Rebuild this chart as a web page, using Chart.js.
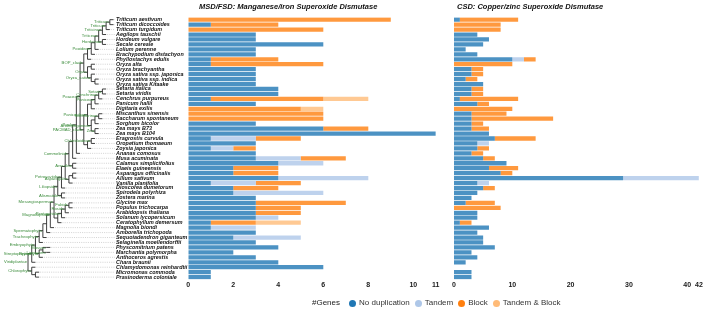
<!DOCTYPE html>
<html>
<head>
<meta charset="utf-8">
<script src="https://cdn.jsdelivr.net/npm/chart.js@4.4.0/dist/chart.umd.min.js"></script>
<style>
  body { margin: 0; background: #fff; }
  #wrap { position: relative; width: 709px; height: 310px; }
  #wrap canvas { position: absolute; left: 0; top: 0; }
  #legend { position: absolute; left: 312px; top: 298px; display: flex; align-items: center;
            font: 8px "Liberation Sans", Arial, sans-serif; color: #333; white-space: nowrap; line-height: 10px; }
  #legend .ttl { margin-right: 9px; color: #222; }
  #legend .key { display: flex; align-items: center; margin-right: 5px; }
  #legend .key b { display: inline-block; width: 7px; height: 7px; border-radius: 50%; margin-right: 3px; }
</style>
</head>
<body>
<div id="wrap">
  <canvas id="msd" width="709" height="310"></canvas>
  <canvas id="csd" width="709" height="310"></canvas>
  <div id="legend"></div>
</div>
<script>
const species = [
  'Triticum aestivum', 'Triticum dicoccoides', 'Triticum turgidum', 'Aegilops tauschii', 'Hordeum vulgare',
  'Secale cereale', 'Lolium perenne', 'Brachypodium distachyon', 'Phyllostachys edulis', 'Oryza alta',
  'Oryza brachyantha', 'Oryza sativa ssp. japonica', 'Oryza sativa ssp. indica', 'Oryza sativa Kitaake', 'Setaria italica',
  'Setaria viridis', 'Cenchrus purpureus', 'Panicum hallii', 'Digitaria exilis', 'Miscanthus sinensis',
  'Saccharum spontaneum', 'Sorghum bicolor', 'Zea mays B73', 'Zea mays B104', 'Eragrostis curvula',
  'Oropetium thomaeum', 'Zoysia japonica', 'Ananas comosus', 'Musa acuminata', 'Calamus simplicifolius',
  'Elaeis guineensis', 'Asparagus officinalis', 'Allium sativum', 'Vanilla planifolia', 'Dioscorea dumetorum',
  'Spirodela polyrhiza', 'Zostera marina', 'Glycine max', 'Populus trichocarpa', 'Arabidopsis thaliana',
  'Solanum lycopersicum', 'Ceratophyllum demersum', 'Magnolia biondi', 'Amborella trichopoda', 'Sequoiadendron giganteum',
  'Selaginella moellendorffii', 'Physcomitrium patens', 'Marchantia polymorpha', 'Anthoceros agrestis', 'Chara braunii',
  'Chlamydomonas reinhardtii', 'Micromonas commoda', 'Prasinoderma coloniale'
];

const seriesNames = ['No duplication', 'Tandem', 'Block', 'Tandem & Block'];
const seriesColors = ['#1f77b4', '#aec7e8', '#ff7f0e', '#ffbb78'];

const msdTicks = [0, 2, 4, 6, 8, 10, 11];
const csdTicks = [0, 10, 20, 30, 40, 42];

// MSD/FSD gene counts per species
const msdNoDup = [0,1,0,3,3,6,3,3,1,1, 3,3,3,3,4,4,1,3,0,0, 0,3,6,11,1,3,1,3,3,4, 2,2,4,1,2,2,3,3,3,3, 3,1,1,3,2,3,4,2,3,4, 6,1,1];
const msdTandem = [0,0,0,0,0,0,0,0,0,0, 0,0,0,0,0,0,0,0,0,0, 0,0,0,0,2,0,1,0,2,2, 0,0,4,2,0,4,0,0,0,0, 1,0,2,0,3,0,0,0,0,0, 0,0,0];
const msdBlock = [9,3,6,0,0,0,0,0,3,5, 0,0,0,0,0,0,5,0,5,6, 6,0,2,0,2,0,1,0,2,0, 2,2,0,2,2,0,0,4,2,2, 0,2,0,0,0,0,0,0,0,0, 0,0,0];
const msdBoth = [0,0,0,0,0,0,0,0,0,0, 0,0,0,0,0,0,2,0,1,0, 0,0,0,0,0,0,0,0,0,0, 0,0,0,0,0,0,0,0,0,0, 0,2,0,0,0,0,0,0,0,0, 0,0,0];

// CSD gene counts per species
const csdNoDup = [1,0,0,4,6,5,2,4,10,0, 3,3,2,5,3,3,1,4,0,3, 3,3,3,6,7,4,4,3,5,9, 6,8,29,4,5,4,3,2,0,4, 4,1,6,4,5,5,7,3,4,2, 0,3,3];
const csdTandem = [0,0,0,0,0,0,0,0,2,0, 0,0,0,0,0,0,0,0,0,0, 0,0,0,0,0,2,0,0,0,0, 0,0,13,2,0,0,0,0,0,0, 0,0,0,0,0,0,0,0,0,0, 0,0,0];
const csdBlock = [10,8,8,0,0,0,0,0,2,10, 2,2,2,0,2,2,10,2,10,6, 14,2,3,0,7,0,2,2,2,0, 5,2,0,0,2,0,0,5,8,0, 0,2,0,0,0,0,0,0,0,0, 0,0,0];
const csdBoth = [0,0,0,0,0,0,0,0,0,0, 0,0,0,0,0,0,0,0,0,0, 0,0,0,0,0,0,0,0,0,0, 0,0,0,0,0,0,0,0,0,0, 0,0,0,0,0,0,0,0,0,0, 0,0,0];

// species tree: [node label, children...], numbers are species rows
const tree =
['Viridiplantae',
  ['Streptophytina',
    ['Embryophyta',
      ['Tracheophyta',
        ['Spermatophyta',
          ['',
            ['Magnoliopsida',
              ['Mesangiospermae',
                ['Liliopsida',
                  ['Petrosaviidae',
                    ['',
                      ['Commelinids',
                        ['',
                          ['Poales',
                            ['Poaceae',
                              ['BOP_clade',
                                ['',
                                  ['Pooideae',
                                    ['',
                                      ['Triticeae',
                                        ['Triticinae', ['Triticum', ['Triticum', 0, 1], 2], 3],
                                        ['Hordeinae', 4, 5]],
                                      6],
                                    7],
                                  8],
                                ['Oryza', ['', 9, 10], ['Oryza_sativa', 11, ['', 12, 13]]]],
                              ['PACMAD_clade',
                                ['Panicoideae',
                                  ['', ['Paniceae', ['Cenchrinae', ['Setaria', 14, 15], 16], 17], 18],
                                  ['Andropogoneae', ['', ['Saccharinae', 19, 20], 21], ['Zea', 22, 23]]],
                                ['', ['Chloridoideae', 24, 25], 26]]],
                            27],
                          28],
                        ['Arecales', 29, 30]],
                      ['Asparagales', ['', 31, 32], 33]],
                    34],
                  ['Alismatales', 35, 36]],
                ['', ['Pentapetalae', ['Rosids', ['Fabids', 37, 38], 39], 40], 41]],
              42],
            43],
          44],
        45],
      ['Bryophyta', ['', ['Mosses', 46], ['Liverworts', 47]], 48]],
    49],
  ['Chlorophyta', 50, ['', 51, 52]]];

const FONT = '"Liberation Sans", Arial, sans-serif';

function fade(hex, a) {
  var n = parseInt(hex.slice(1), 16);
  return 'rgba(' + (n >> 16) + ',' + ((n >> 8) & 255) + ',' + (n & 255) + ',' + a + ')';
}

function stackSets(cols) {
  return seriesNames.map(function (name, k) {
    return {
      label: name,
      data: cols[k],
      backgroundColor: fade(seriesColors[k], 0.8),
      barPercentage: 0.86,
      categoryPercentage: 1
    };
  });
}

// title text for each panel
function panelTitle(text, x) {
  return {
    id: 'panelTitle',
    afterDraw: function (chart) {
      var ctx = chart.ctx;
      ctx.save();
      ctx.font = 'italic bold 7.5px ' + FONT;
      ctx.fillStyle = '#111';
      ctx.textBaseline = 'middle';
      ctx.fillText(text, x, 6.5);
      ctx.restore();
    }
  };
}

// cladogram + species names on the left
const treePlugin = {
  id: 'tree',
  afterDraw: function (chart) {
    var ctx = chart.ctx, ys = chart.scales.y;
    var rootX = 28, step = 3.72, labelX = 116;
    var nodeLabels = [];
    ctx.save();

    function place(node, depth) {
      var x = rootX + depth * step;
      if (typeof node === 'number') {
        var yt = ys.getPixelForValue(node);
        // dotted guide to the name
        ctx.strokeStyle = '#b5b5b5';
        ctx.lineWidth = 0.6;
        ctx.setLineDash([1, 1.2]);
        ctx.beginPath(); ctx.moveTo(x + 1, yt); ctx.lineTo(labelX - 1, yt); ctx.stroke();
        ctx.setLineDash([]);
        return { x: x, y: yt };
      }
      var kids = node.slice(1).map(function (k) { return place(k, depth + 1); });
      var yy = kids.reduce(function (s, p) { return s + p.y; }, 0) / kids.length;
      var lo = Math.min.apply(null, kids.map(function (p) { return p.y; }));
      var hi = Math.max.apply(null, kids.map(function (p) { return p.y; }));
      ctx.strokeStyle = '#2a2a2a';
      ctx.lineWidth = 0.9;
      ctx.beginPath();
      ctx.moveTo(x, lo); ctx.lineTo(x, hi);
      kids.forEach(function (p) { ctx.moveTo(x, p.y); ctx.lineTo(p.x, p.y); });
      ctx.stroke();
      if (node[0]) nodeLabels.push({ t: node[0], x: x - 1, y: yy });
      return { x: x, y: yy };
    }
    place(tree, 0);

    ctx.font = '4.2px ' + FONT;
    ctx.fillStyle = '#3c8c3c';
    ctx.textAlign = 'right';
    ctx.textBaseline = 'middle';
    nodeLabels.forEach(function (l) { ctx.fillText(l.t, l.x, l.y); });

    ctx.font = 'italic bold 5.4px ' + FONT;
    ctx.fillStyle = '#111';
    ctx.textAlign = 'left';
    species.forEach(function (s, i) { ctx.fillText(s, labelX, ys.getPixelForValue(i)); });
    ctx.restore();
  }
};

function panelOptions(padLeft, padRight, max, ticks) {
  return {
    indexAxis: 'y',
    responsive: false,
    animation: false,
    events: [],
    layout: { padding: { left: padLeft, right: padRight, top: 17.2, bottom: 20 } },
    plugins: { legend: { display: false }, tooltip: { enabled: false } },
    scales: {
      y: { stacked: true, display: false },
      x: {
        stacked: true, min: 0, max: max,
        grid: { display: false, drawTicks: false },
        border: { display: false },
        ticks: { autoSkip: false, padding: 1, color: '#1a1a1a', font: { family: FONT, size: 7, weight: 'bold' } },
        afterBuildTicks: function (scale) {
          scale.ticks = ticks.map(function (v) { return { value: v }; });
        }
      }
    }
  };
}

new Chart(document.getElementById('msd'), {
  type: 'bar',
  data: { labels: species, datasets: stackSets([msdNoDup, msdTandem, msdBlock, msdBoth]) },
  options: panelOptions(188.3, 709 - 435.8, 11, msdTicks),
  plugins: [treePlugin, panelTitle('MSD/FSD: Manganese/iron Superoxide Dismutase', 199)]
});

new Chart(document.getElementById('csd'), {
  type: 'bar',
  data: { labels: species, datasets: stackSets([csdNoDup, csdTandem, csdBlock, csdBoth]) },
  options: panelOptions(454, 709 - 698.9, 42, csdTicks),
  plugins: [panelTitle('CSD: Copper/zinc Superoxide Dismutase', 457)]
});

// shared legend
var lg = document.getElementById('legend');
var html = '<span class="ttl">#Genes</span>';
seriesNames.forEach(function (n, k) {
  html += '<span class="key"><b style="background:' + seriesColors[k] + '"></b>' + n + '</span>';
});
lg.innerHTML = html;
</script>
</body>
</html>
